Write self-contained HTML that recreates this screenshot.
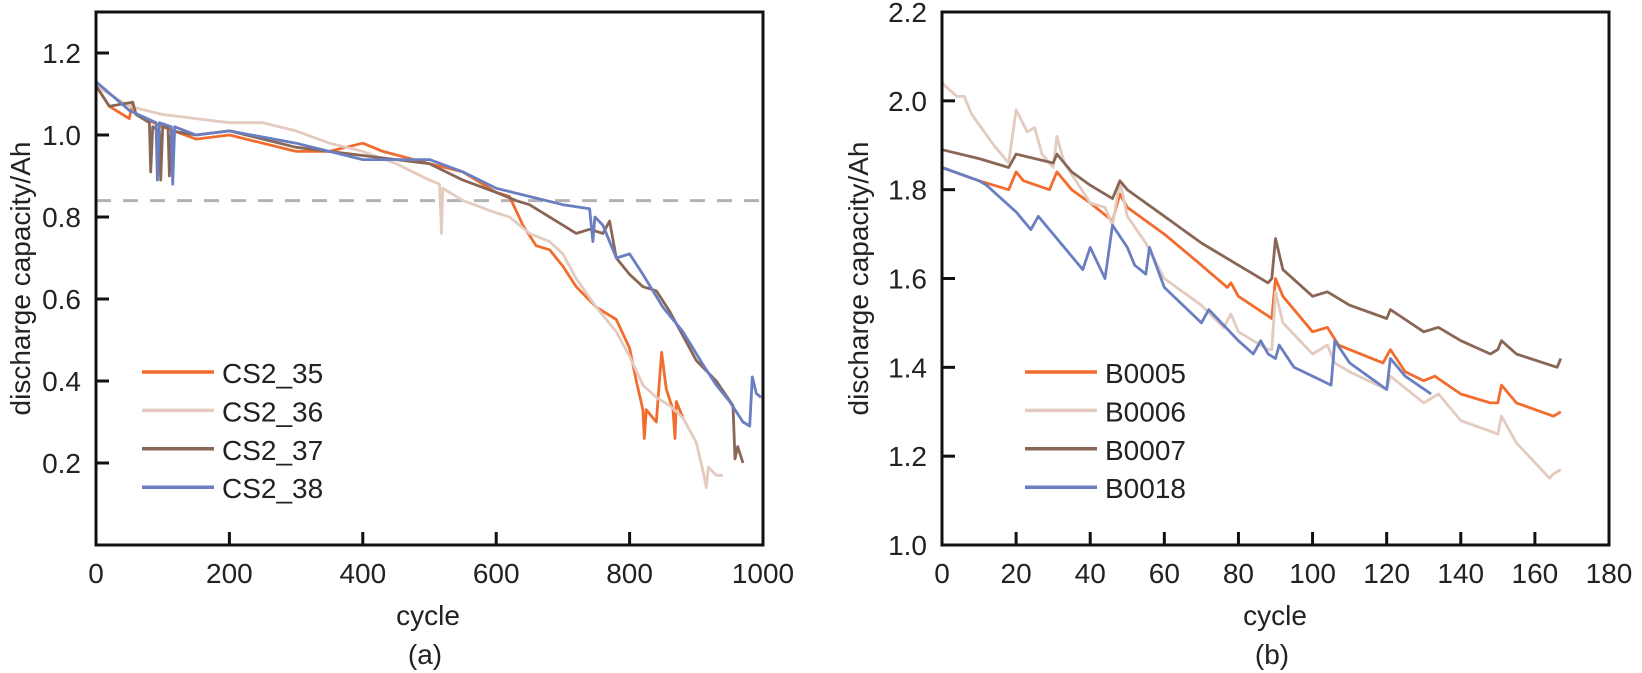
<!DOCTYPE html>
<html><head><meta charset="utf-8"><style>
body{margin:0;background:#fff;}
svg{display:block;font-family:"Liberation Sans",Arial,sans-serif;}
</style></head><body>
<svg id="c" width="1642" height="673" viewBox="0 0 1642 673"></svg>
<script>
// ----- chart (a) data -----
const aNames = ["CS2_35","CS2_36","CS2_37","CS2_38"];
const aXTicks = [0,200,400,600,800,1000];
const aYTicks = [0.2,0.4,0.6,0.8,1.0,1.2];
const cs35x = [0,20,50,55,60,100,150,200,250,300,350,400,430,500,550,600,620,640,660,680,700,720,750,780,800,810,820,822,825,840,848,855,865,868,870,880];
const cs35y = [1.12,1.07,1.04,1.08,1.05,1.02,0.99,1.00,0.98,0.96,0.96,0.98,0.96,0.93,0.91,0.86,0.85,0.78,0.73,0.72,0.68,0.63,0.58,0.55,0.48,0.40,0.33,0.26,0.33,0.30,0.47,0.38,0.33,0.26,0.35,0.31];
const cs36x = [0,50,100,150,200,250,300,350,400,450,500,515,518,520,550,600,620,650,680,700,720,750,780,800,820,840,860,880,900,910,915,918,930,940];
const cs36y = [1.12,1.07,1.05,1.04,1.03,1.03,1.01,0.98,0.96,0.93,0.89,0.88,0.76,0.87,0.84,0.81,0.80,0.76,0.74,0.71,0.65,0.58,0.52,0.46,0.39,0.36,0.34,0.31,0.25,0.18,0.14,0.19,0.17,0.17];
const cs37x = [0,20,55,60,80,82,85,95,97,100,108,110,113,150,200,300,400,500,550,600,630,650,700,720,740,760,770,780,800,820,840,860,880,900,930,955,958,962,970];
const cs37y = [1.12,1.07,1.08,1.05,1.03,0.91,1.02,1.01,0.89,1.02,1.02,0.90,1.01,1.00,1.01,0.97,0.95,0.93,0.89,0.86,0.84,0.83,0.78,0.76,0.77,0.76,0.79,0.70,0.66,0.63,0.62,0.57,0.51,0.45,0.40,0.34,0.21,0.24,0.20];
const cs38x = [0,50,90,92,95,113,115,118,150,200,300,400,450,500,550,600,650,700,740,745,748,760,780,800,820,850,880,910,930,950,970,980,984,990,997];
const cs38y = [1.13,1.06,1.03,0.89,1.03,1.02,0.88,1.02,1.00,1.01,0.98,0.94,0.94,0.94,0.91,0.87,0.85,0.83,0.82,0.74,0.80,0.78,0.70,0.71,0.66,0.58,0.52,0.44,0.39,0.35,0.30,0.29,0.41,0.37,0.36];
const aThreshold = 0.84;
// ----- chart (b) data -----
const bNames = ["B0005","B0006","B0007","B0018"];
const bXTicks = [0,20,40,60,80,100,120,140,160,180];
const bYTicks = [1.0,1.2,1.4,1.6,1.8,2.0,2.2];
const b05x = [0,10,18,20,22,29,31,35,40,46,48,50,60,70,77,78,80,89,90,92,100,104,107,110,119,121,125,130,133,140,148,150,151,155,165,167];
const b05y = [1.85,1.82,1.80,1.84,1.82,1.80,1.84,1.80,1.77,1.73,1.79,1.76,1.70,1.63,1.58,1.59,1.56,1.51,1.60,1.56,1.48,1.49,1.45,1.44,1.41,1.44,1.39,1.37,1.38,1.34,1.32,1.32,1.36,1.32,1.29,1.30];
const b06x = [0,4,6,8,14,18,20,23,25,27,30,31,33,40,44,46,48,50,55,60,70,76,78,80,88,89,90,92,100,104,106,110,120,121,130,134,140,150,151,155,164,165,167];
const b06y = [2.04,2.01,2.01,1.97,1.90,1.86,1.98,1.93,1.94,1.88,1.85,1.92,1.86,1.77,1.76,1.72,1.82,1.74,1.68,1.60,1.54,1.49,1.52,1.48,1.44,1.44,1.57,1.50,1.43,1.45,1.41,1.39,1.35,1.38,1.32,1.34,1.28,1.25,1.29,1.23,1.15,1.16,1.17];
const b07x = [0,10,18,20,30,31,35,40,46,48,50,60,70,80,88,89,90,92,100,104,110,120,121,130,134,140,148,150,151,155,166,167];
const b07y = [1.89,1.87,1.85,1.88,1.86,1.88,1.84,1.81,1.78,1.82,1.80,1.74,1.68,1.63,1.59,1.60,1.69,1.62,1.56,1.57,1.54,1.51,1.53,1.48,1.49,1.46,1.43,1.44,1.46,1.43,1.40,1.42];
const b18x = [0,10,12,20,24,26,30,38,40,44,46,50,52,55,56,60,70,72,80,84,86,88,90,91,95,105,106,110,120,121,125,132];
const b18y = [1.85,1.82,1.81,1.75,1.71,1.74,1.70,1.62,1.67,1.60,1.72,1.67,1.63,1.61,1.67,1.58,1.50,1.53,1.46,1.43,1.46,1.43,1.42,1.45,1.40,1.36,1.46,1.41,1.35,1.42,1.38,1.34];

const colors = ["#f26c2d","#e3cbc0","#8a6657","#6a7ec2"];
const NS = "http://www.w3.org/2000/svg";
const svg = document.getElementById("c");
function mk(tag, attrs, parent){ const e=document.createElementNS(NS,tag); for(const k in attrs) e.setAttribute(k,attrs[k]); (parent||svg).appendChild(e); return e; }

function chart(cfg){
  const g = mk("g",{});
  
  
  const sx = v => cfg.x0 + (v - cfg.xmin)/(cfg.xmax-cfg.xmin)*(cfg.x1-cfg.x0);
  const sy = v => cfg.y0 - (v - cfg.ymin)/(cfg.ymax-cfg.ymin)*(cfg.y0-cfg.y1);
  if (cfg.threshold !== undefined){
    const t = mk("line",{x1:cfg.x0,x2:cfg.x1,y1:sy(cfg.threshold),y2:sy(cfg.threshold),stroke:"#b3b3b3","stroke-width":3,"stroke-dasharray":"15,12"},g);
    
    
  }
  cfg.series.forEach((s,i)=>{
    const pts = s.x.map((xv,j)=>sx(xv).toFixed(1)+","+sy(s.y[j]).toFixed(1)).join(" ");
    const p = mk("polyline",{points:pts,fill:"none",stroke:colors[i],"stroke-width":2.8,"stroke-linejoin":"round"},g);
    
    
  });
  const f = mk("rect",{x:cfg.x0,y:cfg.y1,width:cfg.x1-cfg.x0,height:cfg.y0-cfg.y1,fill:"none",stroke:"#111","stroke-width":3},g);
  
  
  cfg.xticks.forEach(v=>{
    const x=sx(v);
    const tk = mk("line",{x1:x,x2:x,y1:cfg.y0,y2:cfg.y0-13,stroke:"#111","stroke-width":3},g);
    
    
    const t = mk("text",{x:x,y:cfg.y0+38,"text-anchor":"middle","font-size":28,fill:"#222"},g);
    t.textContent = v;
    
    
  });
  cfg.yticks.forEach(v=>{
    const y=sy(v);
    const tk = mk("line",{x1:cfg.x0,x2:cfg.x0+13,y1:y,y2:y,stroke:"#111","stroke-width":3},g);
    
    
    const t = mk("text",{x:cfg.x0-15,y:y+10,"text-anchor":"end","font-size":28,fill:"#222"},g);
    t.textContent = v.toFixed(1);
    
    
  });
  const yt = mk("text",{x:0,y:0,"text-anchor":"middle","font-size":28,fill:"#222",transform:`translate(${cfg.ytx},${(cfg.y0+cfg.y1)/2}) rotate(-90)`},g);
  yt.textContent = "discharge capacity/Ah";
  
  
  const xt = mk("text",{x:cfg.xtx,y:625,"text-anchor":"middle","font-size":28,fill:"#222"},g);
  xt.textContent = "cycle";
  
  
  const cap = mk("text",{x:cfg.xtx-3,y:664,"text-anchor":"middle","font-size":28,fill:"#222"},g);
  cap.textContent = cfg.caption;
  
  
  cfg.names.forEach((n,i)=>{
    const y = 372 + i*38.4;
    const l = mk("line",{x1:cfg.lx,x2:cfg.lx+72,y1:y,y2:y,stroke:colors[i],"stroke-width":3.5},g);
    
    
    const t = mk("text",{x:cfg.lx+80,y:y+11,"font-size":28,fill:"#222"},g);
    t.textContent = n;
    
    
  });
}

chart({name:"chart-a",x0:96,x1:763,y0:545,y1:12,xmin:0,xmax:1000,ymin:0,ymax:1.3,
  xticks:aXTicks,yticks:aYTicks,names:aNames,threshold:aThreshold,ytx:30,xtx:428,caption:"(a)",lx:142,
  series:[{x:cs35x,y:cs35y},{x:cs36x,y:cs36y},{x:cs37x,y:cs37y},{x:cs38x,y:cs38y}]});
chart({name:"chart-b",x0:942,x1:1609,y0:545,y1:12,xmin:0,xmax:180,ymin:1.0,ymax:2.2,
  xticks:bXTicks,yticks:bYTicks,names:bNames,ytx:868,xtx:1275,caption:"(b)",lx:1025,
  series:[{x:b05x,y:b05y},{x:b06x,y:b06y},{x:b07x,y:b07y},{x:b18x,y:b18y}]});
</script>
</body></html>
